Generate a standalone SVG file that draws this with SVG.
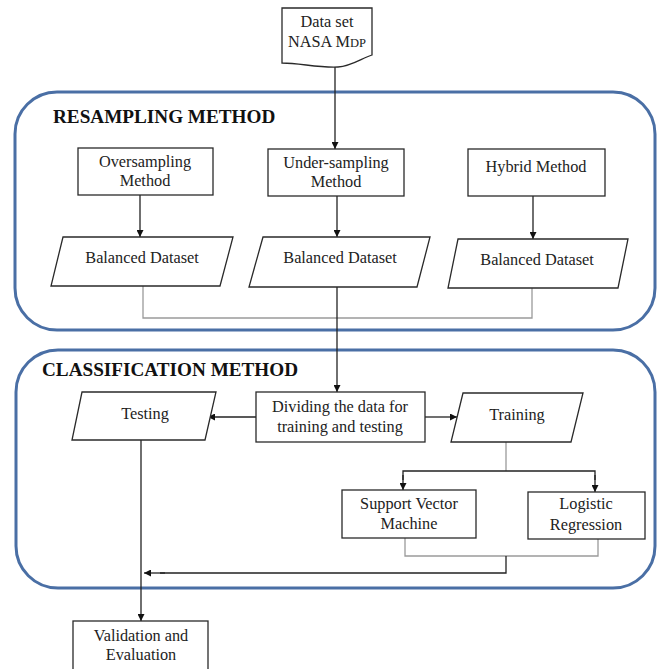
<svg xmlns="http://www.w3.org/2000/svg" width="657" height="669" viewBox="0 0 657 669">
<style>
.bg{fill:#ffffff}
.cont{fill:none;stroke:#4a6fa5;stroke-width:3}
.node{fill:#ffffff;stroke:#2a2a2a;stroke-width:1.3}
.t{font-family:'Liberation Serif','Times New Roman','DejaVu Serif',serif;font-size:16.3px;fill:#222;text-anchor:middle}
.h{font-family:'Liberation Serif','Times New Roman','DejaVu Serif',serif;font-size:19.2px;font-weight:bold;fill:#111}
.c{fill:none;stroke:#222;stroke-width:1.3}
.g{fill:none;stroke:#9a9a9a;stroke-width:1.3}
</style>
<defs>
<marker id="ah" viewBox="0 0 10 10" refX="10" refY="5" markerWidth="7" markerHeight="7" markerUnits="userSpaceOnUse" orient="auto">
<path d="M0,0 L10,5 L0,10 Z" fill="#111"/>
</marker>
</defs>
<rect class="bg" x="0" y="0" width="657" height="669"/>
<g id="containers">
<rect id="resampling" class="cont" x="15" y="92" width="640" height="238" rx="42" ry="42"/>
<rect id="classification" class="cont" x="16" y="350" width="639" height="238" rx="42" ry="42"/>
<text class="h" x="53" y="123">RESAMPLING METHOD</text>
<text class="h" x="42" y="376">CLASSIFICATION METHOD</text>
</g>
<g id="connectors">
<line class="c" x1="335" y1="65" x2="335" y2="149" marker-end="url(#ah)"/>
<line class="c" x1="140" y1="195" x2="140" y2="237" marker-end="url(#ah)"/>
<line class="c" x1="337" y1="196" x2="337" y2="237" marker-end="url(#ah)"/>
<line class="c" x1="533" y1="196" x2="533" y2="239" marker-end="url(#ah)"/>
<polyline class="g" points="143,286 143,318 532,318 532,288"/>
<line class="c" x1="337" y1="287" x2="337" y2="392" marker-end="url(#ah)"/>
<line class="c" x1="256" y1="417" x2="208" y2="417" marker-end="url(#ah)"/>
<line class="c" x1="425" y1="417" x2="457" y2="417" marker-end="url(#ah)"/>
<line class="g" x1="506" y1="442" x2="506" y2="471"/>
<polyline class="c" points="403,480 403,471 595,471 595,480"/>
<line class="c" x1="403" y1="475" x2="403" y2="490" marker-end="url(#ah)"/>
<line class="c" x1="595" y1="475" x2="595" y2="492" marker-end="url(#ah)"/>
<polyline class="g" points="405,538 405,556 598,556 598,539"/>
<polyline class="c" points="506,556 506,573 160,573"/>
<line class="c" x1="165" y1="573" x2="144" y2="573" marker-end="url(#ah)"/>
<line class="c" x1="141" y1="440" x2="141" y2="621" marker-end="url(#ah)"/>
</g>
<g id="dataset">
<path class="node" d="M282,8 H372 V55 C362,58 352,66 338,67 C318,68 300,63 282,63 Z"/>
<text class="t" x="327" y="27">Data set</text>
<text class="t" x="327" y="47">NASA M<tspan font-size="12.5">DP</tspan></text>
</g>
<g id="oversampling">
<rect class="node" x="78" y="148" width="135" height="47"/>
<text class="t" x="145" y="167">Oversampling</text>
<text class="t" x="145" y="186">Method</text>
</g>
<g id="undersampling">
<rect class="node" x="268" y="149" width="136" height="47"/>
<text class="t" x="336" y="168">Under-sampling</text>
<text class="t" x="336" y="187">Method</text>
</g>
<g id="hybrid">
<rect class="node" x="468" y="149" width="137" height="47"/>
<text class="t" x="536" y="172">Hybrid Method</text>
</g>
<g id="balanced1">
<polygon class="node" points="63,237 233,237 220,286 51,286"/>
<text class="t" x="142" y="263">Balanced Dataset</text>
</g>
<g id="balanced2">
<polygon class="node" points="263,237 430,237 417,287 249,287"/>
<text class="t" x="340" y="263">Balanced Dataset</text>
</g>
<g id="balanced3">
<polygon class="node" points="458,239 628,239 618,288 448,288"/>
<text class="t" x="537" y="265">Balanced Dataset</text>
</g>
<g id="dividing">
<rect class="node" x="256" y="392" width="169" height="50"/>
<text class="t" x="340" y="412">Dividing the data for</text>
<text class="t" x="340" y="432">training and testing</text>
</g>
<g id="testing">
<polygon class="node" points="82,392 216,392 205,440 72,440"/>
<text class="t" x="145" y="419">Testing</text>
</g>
<g id="training">
<polygon class="node" points="463,393 583,393 571,442 451,442"/>
<text class="t" x="517" y="420">Training</text>
</g>
<g id="svm">
<rect class="node" x="342" y="490" width="134" height="48"/>
<text class="t" x="409" y="509">Support Vector</text>
<text class="t" x="409" y="529">Machine</text>
</g>
<g id="lr">
<rect class="node" x="528" y="492" width="117" height="47"/>
<text class="t" x="586" y="509">Logistic</text>
<text class="t" x="586" y="530">Regression</text>
</g>
<g id="validation">
<rect class="node" x="73" y="621" width="135" height="60"/>
<text class="t" x="141" y="641">Validation and</text>
<text class="t" x="141" y="660">Evaluation</text>
</g>
</svg>
